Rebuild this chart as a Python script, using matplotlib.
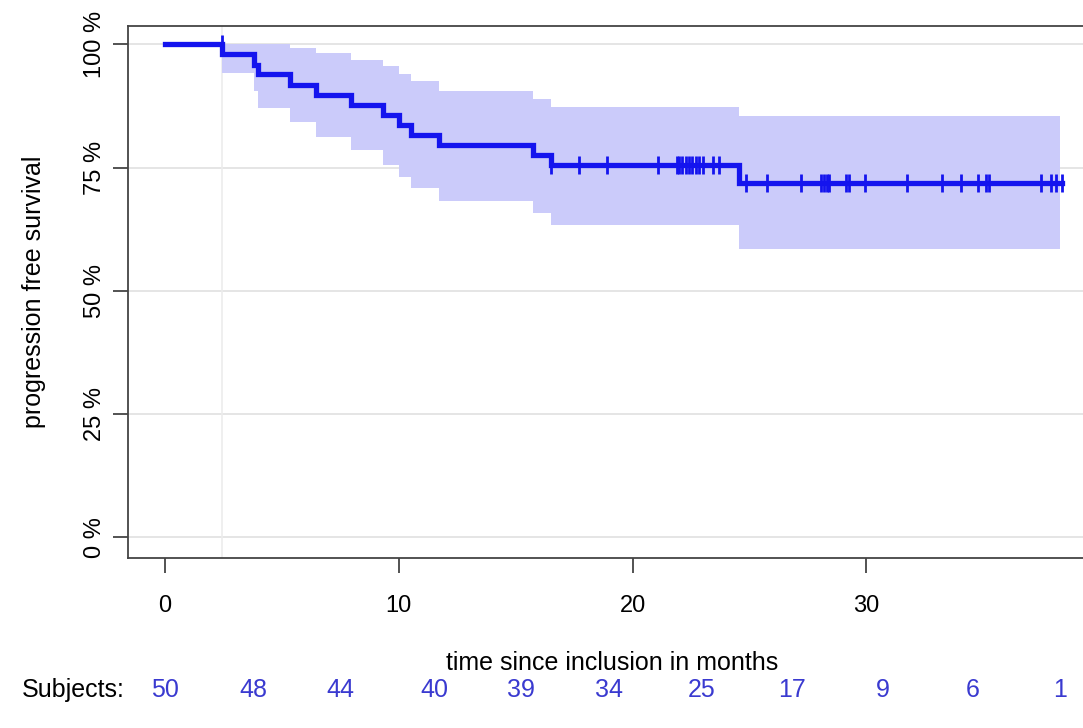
import numpy as np
import matplotlib
matplotlib.use("Agg")
import matplotlib.pyplot as plt
import matplotlib.transforms as mtransforms

plt.rcParams['font.family'] = ['Liberation Sans', 'DejaVu Sans']

# -------------------------------
# data
# -------------------------------
event_times = [2.45, 3.79, 3.98, 5.36, 6.44, 7.94, 9.33, 10.0, 10.5, 11.73, 15.74, 16.5, 24.54]
surv_pct = [98.0, 95.9, 93.9, 91.8, 89.8, 87.8, 85.7, 83.7, 81.7, 79.6, 77.6, 75.5, 71.9]
ci_upper = [100.0, 100.0, 100.0, 99.3, 98.3, 96.8, 95.6, 93.9, 92.5, 90.6, 89.0, 87.3, 85.4]
ci_lower = [94.2, 90.5, 87.1, 84.2, 81.2, 78.5, 75.6, 73.2, 70.9, 68.2, 65.8, 63.3, 58.5]
last_time = 38.38
band_end = 38.3

censor_times = [2.43, 16.52, 17.70, 18.89, 21.10, 21.89, 22.0, 22.13, 22.29, 22.42,
                22.56, 22.70, 22.85, 23.0, 23.46, 23.70, 24.85, 25.75, 27.22, 28.08,
                28.18, 28.30, 28.40, 29.11, 29.28, 29.94, 31.76, 33.26, 34.05, 34.76,
                35.12, 35.26, 37.48, 37.91, 38.13, 38.38]

risk_times = [0, 3.78, 7.51, 11.5, 15.24, 19.01, 22.96, 26.82, 30.69, 34.55, 38.28]
n_risk = [50, 48, 44, 40, 39, 34, 25, 17, 9, 6, 1]

x_ticks = [0, 10, 20, 30]
y_ticks = [0, 25, 50, 75, 100]
y_ticklabels = ["0 %", "25 %", "50 %", "75 %", "100 %"]

curve_col = "#1414ee"
band_col = "#cbcbfa"
risk_col = "#3a3ad0"

# -------------------------------
# figure
# -------------------------------
fig = plt.figure(figsize=(10.83, 7.28), dpi=100)
ax = fig.add_axes([128 / 1083, 1 - 557.7 / 728, 1.006 - 128 / 1083, (557.7 - 25.7) / 728])

ax.set_xlim(-1.59, 39.55)
ax.set_ylim(-4.14, 103.8)

# grid
for y in y_ticks:
    ax.axhline(y, color="#e0e0e0", lw=1.2, zorder=0)
ax.axvline(event_times[0], color="#ececec", lw=1.2, zorder=0)

# confidence band
tb = event_times + [band_end]
ax.fill_between(tb, ci_lower + [ci_lower[-1]], ci_upper + [ci_upper[-1]],
                step="post", color=band_col, lw=0, zorder=1)

# KM curve
tc = [0] + event_times + [last_time]
sc = [100.0] + surv_pct + [surv_pct[-1]]
ax.step(tc, sc, where="post", color=curve_col, lw=3.8, zorder=3, solid_joinstyle="miter")

# censor marks
idx = np.searchsorted(event_times, censor_times, side="right")
cens_y = np.array([100.0] + surv_pct)[idx]
ax.plot(censor_times, cens_y, ls="none", marker="|", ms=13, mew=2.0, color=curve_col, zorder=4)

# axes style
for side in ["left", "top", "bottom"]:
    ax.spines[side].set_color("#444444")
    ax.spines[side].set_linewidth(1.3)
ax.spines["right"].set_visible(False)

ax.set_xticks(x_ticks)
ax.set_yticks(y_ticks)
ax.set_yticklabels(y_ticklabels, rotation=90, va="center")
ax.tick_params(axis="both", length=11, width=1.3, color="#444444", labelsize=17)
ax.tick_params(axis="x", pad=16)
ax.tick_params(axis="y", pad=5)

ax.set_ylabel("progression free survival", fontsize=18, labelpad=27)
fig.text(612 / 1083, 1 - 663 / 728, "time since inclusion in months", fontsize=18,
         ha="center", va="center")

# number at risk
trans = mtransforms.blended_transform_factory(ax.transData, fig.transFigure)
fig.text(22 / 1083, 1 - 690 / 728, "Subjects:", fontsize=18, ha="left", va="center")
for t, n in zip(risk_times, n_risk):
    ax.text(t, 1 - 690 / 728, str(n), transform=trans, fontsize=18, color=risk_col,
            ha="center", va="center", clip_on=False)

fig.savefig("out.png", dpi=100)
